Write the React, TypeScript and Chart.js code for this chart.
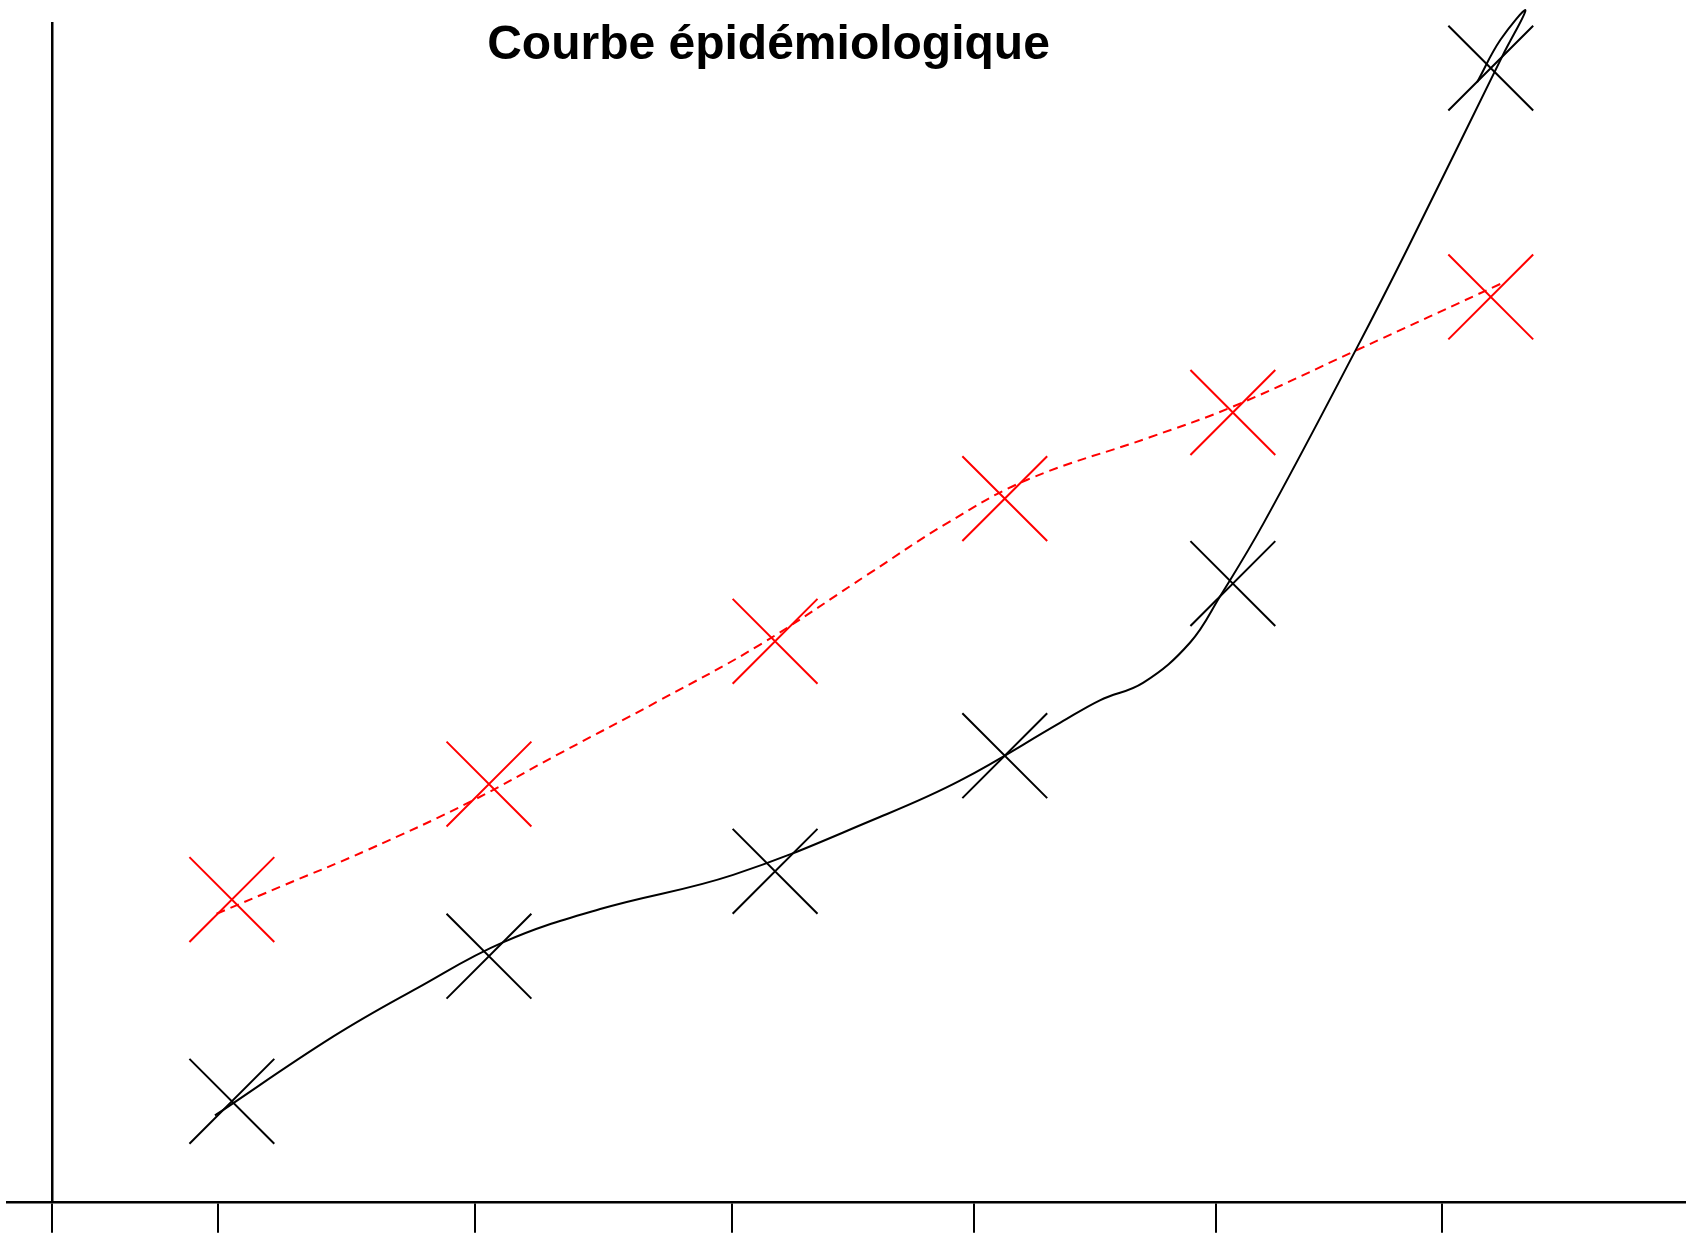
import React, { useEffect, useRef } from "react";
import { Chart, registerables } from "chart.js";

Chart.register(...registerables);

const TITLE = "Courbe épidémiologique";

// x axis (time units) and y axis (cases) ranges
const X_MIN = -5.6;
const X_MAX = 202.6;
const Y_MIN = 0;
const Y_MAX = 100;

// tick positions on the time axis
const xTicks = [0, 20.6, 52.5, 84.4, 114.4, 144.4, 172.5];

// observed points
const obsX = [22.3, 54.2, 89.7, 118.2, 146.5, 178.5];
const blackObsY = [8.6, 20.9, 28.1, 37.9, 52.5, 96.2];
const redObsY = [25.7, 35.5, 47.6, 59.7, 67.0, 76.8];

// smoothed curves
const blackFitX = [20.2, 34.9, 45.3, 56.0, 68.0, 84.5, 102.7, 112.7, 125.1, 130.0, 135.4, 141.2, 144.9, 150.3, 161.9, 168.1, 180.0, 182.8, 179.7, 176.8];
const blackFitY = [7.4, 14.1, 18.2, 22.1, 24.9, 27.8, 32.7, 35.8, 40.7, 42.6, 44.1, 47.5, 51.4, 57.6, 72.5, 80.8, 97.3, 101.1, 98.6, 95.0];
const redFitX = [20.4, 28.7, 39.1, 51.9, 63.0, 75.4, 87.8, 101.5, 111.0, 121.0, 136.2, 146.5, 161.9, 180.0];
const redFitY = [24.5, 26.9, 29.9, 34.0, 38.1, 42.6, 47.3, 53.4, 57.6, 61.3, 64.9, 67.5, 72.3, 78.0];

const zip = (xs: number[], ys: number[]) => xs.map((x, i) => ({ x, y: ys[i] }));

export default function App() {
  const ref = useRef<HTMLCanvasElement | null>(null);

  useEffect(() => {
    if (!ref.current) return;
    const chart = new Chart(ref.current, {
      type: "scatter",
      data: {
        datasets: [
          {
            data: zip(blackFitX, blackFitY),
            showLine: true,
            borderColor: "#000000",
            borderWidth: 2,
            pointRadius: 0,
            tension: 0.4,
            capBezierPoints: false,
            clip: false,
          } as any,
          {
            data: zip(redFitX, redFitY),
            showLine: true,
            borderColor: "#ff0000",
            borderWidth: 2,
            borderDash: [9, 6],
            pointRadius: 0,
            tension: 0.4,
            capBezierPoints: false,
            clip: false,
          } as any,
          {
            data: zip(obsX, blackObsY),
            showLine: false,
            pointStyle: "crossRot",
            pointRadius: 60,
            pointBorderColor: "#000000",
            pointBackgroundColor: "#000000",
            pointBorderWidth: 2,
            clip: false,
          } as any,
          {
            data: zip(obsX, redObsY),
            showLine: false,
            pointStyle: "crossRot",
            pointRadius: 60,
            pointBorderColor: "#ff0000",
            pointBackgroundColor: "#ff0000",
            pointBorderWidth: 2,
            clip: false,
          } as any,
        ],
      },
      options: {
        animation: false,
        responsive: false,
        events: [],
        layout: { autoPadding: false, padding: { left: 7, right: 2, top: 23.3, bottom: 1.3 } },
        plugins: {
          legend: { display: false },
          tooltip: { enabled: false },
          title: { display: false },
        },
        scales: {
          x: {
            type: "linear",
            min: X_MIN,
            max: X_MAX,
            afterBuildTicks: (scale: any) => {
              scale.ticks = xTicks.map((v) => ({ value: v }));
            },
            ticks: { display: false, autoSkip: false },
            grid: {
              display: true,
              drawOnChartArea: false,
              drawTicks: true,
              tickLength: 30,
              color: "#000000",
              lineWidth: 2,
            },
            border: { display: true, color: "#000000", width: 2.5 },
          },
          y: {
            type: "linear",
            min: Y_MIN,
            max: Y_MAX,
            position: { x: 0 } as any,
            ticks: { display: false },
            grid: { display: false, drawTicks: false },
            border: { display: true, color: "#000000", width: 2.5 },
          },
        },
      } as any,
    });
    return () => chart.destroy();
  }, []);

  return (
    <div
      style={{
        position: "fixed",
        left: 0,
        top: 0,
        width: 1687,
        height: 1234,
        background: "#ffffff",
        overflow: "hidden",
      }}
    >
      <canvas ref={ref} width={1687} height={1234} style={{ width: 1687, height: 1234, display: "block" }} />
      <div
        style={{
          position: "absolute",
          left: 0,
          top: 19.4,
          width: 1537,
          textAlign: "center",
          fontFamily: '"Liberation Sans", Arial, Helvetica, sans-serif',
          fontWeight: "bold",
          fontSize: 48,
          lineHeight: "48px",
          color: "#000000",
          whiteSpace: "nowrap",
        }}
      >
        {TITLE}
      </div>
    </div>
  );
}
